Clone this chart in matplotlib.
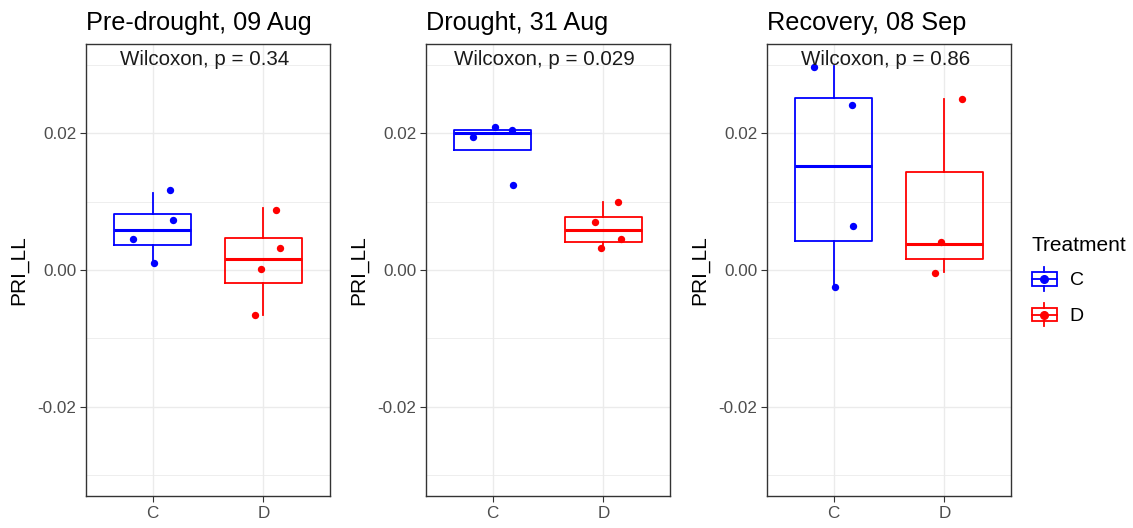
import matplotlib
matplotlib.use("Agg")
import matplotlib.pyplot as plt
from matplotlib.legend_handler import HandlerBase
from matplotlib.patches import Rectangle
from matplotlib.lines import Line2D
from matplotlib.ticker import FixedLocator

plt.rcParams['font.family'] = ['Liberation Sans', 'DejaVu Sans']
plt.rcParams['axes.unicode_minus'] = False

titles = ["Pre-drought, 09 Aug", "Drought, 31 Aug", "Recovery, 08 Sep"]
p_values = ["0.34", "0.029", "0.86"]
groups = ["C", "D"]
colors = ["#0000FF", "#FF0000"]

# box stats per panel: whislo, q1, median, q3, whishi
box_C = [
    (0.00097, 0.00365, 0.00579, 0.00818, 0.01129),
    (0.01757, 0.01757, 0.02000, 0.02044, 0.02044),
    (-0.00253, 0.00428, 0.01523, 0.02516, 0.02978),
]
box_D = [
    (-0.00657, -0.00190, 0.00156, 0.00467, 0.00900),
    (0.00330, 0.00404, 0.00584, 0.00774, 0.00998),
    (-0.00034, 0.00160, 0.00375, 0.01426, 0.02496),
]

# jittered points as they appear: values and horizontal offsets
pts_C = [
    [0.00448, 0.01163, 0.00735, 0.00097],
    [0.01946, 0.02088, 0.02044, 0.01246],
    [0.02968, 0.02409, 0.00647, -0.00253],
]
jit_C = [
    [-0.174, 0.156, 0.180, 0.015],
    [-0.174, 0.018, 0.174, 0.186],
    [-0.179, 0.164, 0.176, 0.012],
]
pts_D = [
    [0.00876, 0.00321, 0.00020, -0.00657],
    [0.00998, 0.00696, 0.00448, 0.00326],
    [0.02496, 0.00409, -0.00049],
]
jit_D = [
    [0.114, 0.153, -0.024, -0.078],
    [0.132, -0.072, 0.159, -0.021],
    [0.158, -0.033, -0.084],
]

W, H = 1133, 528
fig = plt.figure(figsize=(W / 100, H / 100), dpi=100)
lefts = [86, 426, 767]
pw = 244
top, bottom = 44, 496


class BoxKey(HandlerBase):
    def __init__(self, color):
        super().__init__()
        self.color = color

    def create_artists(self, legend, orig_handle, xdescent, ydescent,
                       width, height, fontsize, trans):
        x0, y0 = -xdescent, -ydescent
        cx, cy = x0 + width / 2, y0 + height / 2
        bh = height * 0.58
        rect = Rectangle((x0, cy - bh / 2), width, bh, fill=False,
                         edgecolor=self.color, lw=1.3, transform=trans)
        med = Line2D([x0, x0 + width], [cy, cy], color=self.color, lw=1.3, transform=trans)
        w1 = Line2D([cx, cx], [y0, cy - bh / 2], color=self.color, lw=1.3, transform=trans)
        w2 = Line2D([cx, cx], [cy + bh / 2, y0 + height], color=self.color, lw=1.3, transform=trans)
        pt = Line2D([cx], [cy], marker='o', ms=5.5, color=self.color, lw=0, transform=trans)
        return [rect, med, w1, w2, pt]


for i in range(3):
    ax = fig.add_axes([lefts[i] / W, (H - bottom) / H, pw / W, (bottom - top) / H])
    for g, (boxes, pts, jit) in enumerate([(box_C, pts_C, jit_C), (box_D, pts_D, jit_D)]):
        lo, q1, med, q3, hi = boxes[i]
        stats = [dict(med=med, q1=q1, q3=q3, whislo=lo, whishi=hi, fliers=[])]
        c = colors[g]
        ax.bxp(stats, positions=[g + 1], widths=0.7, showcaps=False,
               boxprops=dict(color=c, lw=1.3),
               medianprops=dict(color=c, lw=2.2),
               whiskerprops=dict(color=c, lw=1.3), zorder=2)
        xs = [g + 1 + d for d in jit[i]]
        ax.scatter(xs, pts[i], s=28, color=c, zorder=3, linewidths=0)

    ax.text(1.47, 0.0308, f"Wilcoxon, p = {p_values[i]}", ha='center', va='center',
            fontsize=14.8, color='#1A1A1A')
    ax.set_xlim(0.4, 2.6)
    ax.set_ylim(-0.033, 0.033)
    ax.set_xticks([1, 2])
    ax.set_xticklabels(groups)
    ax.set_yticks([-0.02, 0.0, 0.02])
    ax.set_yticklabels(["-0.02", "0.00", "0.02"])
    ax.yaxis.set_minor_locator(FixedLocator([-0.03, -0.01, 0.01, 0.03]))
    ax.grid(which='major', color='#EBEBEB', lw=1.0, zorder=0)
    ax.grid(which='minor', axis='y', color='#EBEBEB', lw=0.6, zorder=0)
    ax.set_axisbelow(True)
    ax.tick_params(which='major', length=4, width=0.8, color='#333333',
                   labelsize=12.3, labelcolor='#4D4D4D', pad=3)
    ax.tick_params(which='minor', length=0)
    for s in ax.spines.values():
        s.set_color('#333333')
        s.set_linewidth(1.0)
    ax.set_ylabel("PRI_LL", fontsize=15, color='black')
    ax.yaxis.set_label_coords(-0.235, 0.5)
    ax.set_title(titles[i], loc='left', fontsize=18.2, pad=10)

handles = [Rectangle((0, 0), 1, 1), Rectangle((0, 1), 1, 1)]
fig.legend(handles, groups, title="Treatment", loc='center left',
           bbox_to_anchor=(1018 / W, 1 - 281 / H), frameon=False,
           handler_map={handles[0]: BoxKey(colors[0]), handles[1]: BoxKey(colors[1])},
           fontsize=14, title_fontsize=15, alignment='left',
           handlelength=1.3, handleheight=1.45, handletextpad=0.65, labelspacing=0.65,
           borderpad=0.2)

fig.savefig("out.png", dpi=100)
